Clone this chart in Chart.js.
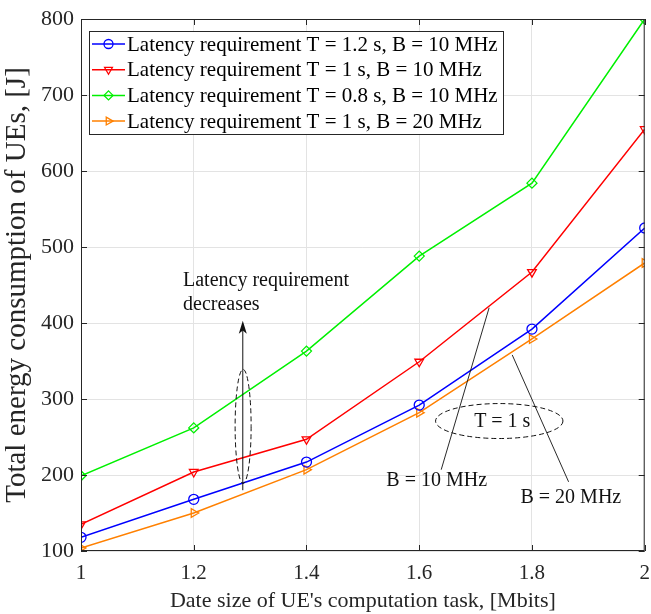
<!DOCTYPE html>
<html>
<head>
<meta charset="utf-8">
<script src="https://cdn.jsdelivr.net/npm/chart.js@4.4.1/dist/chart.umd.min.js"></script>
<style>
  html, body { margin: 0; padding: 0; background: #fff; }
  #wrap { width: 651px; height: 614px; }
</style>
</head>
<body>
<div id="wrap"><canvas id="c" width="651" height="614"></canvas></div>
<script>
// Data size of the computation task (Mbits)
const dataSizes = [1, 1.2, 1.4, 1.6, 1.8, 2];
// Total energy consumption (J) for each latency / bandwidth setting
const energyT12B10 = [118, 168, 217, 292, 392, 525];
const energyT1B10  = [135, 204, 247, 349, 467, 655];
const energyT08B10 = [199, 262, 363, 488, 584, 800];
const energyT1B20  = [104, 150, 207, 282, 379, 479];
const seriesLabels = [
  'Latency requirement T = 1.2 s, B = 10 MHz',
  'Latency requirement T = 1 s, B = 10 MHz',
  'Latency requirement T = 0.8 s, B = 10 MHz',
  'Latency requirement T = 1 s, B = 20 MHz'
];
const xTicks = [1, 1.2, 1.4, 1.6, 1.8, 2];
const yTicks = [100, 200, 300, 400, 500, 600, 700, 800];

const FONT = '"Liberation Serif", "Times New Roman", serif';

function series(label, values, color, style, rot) {
  return {
    label: label,
    data: dataSizes.map((x, i) => ({ x: x, y: values[i] })),
    borderColor: color,
    backgroundColor: 'rgba(0,0,0,0)',
    borderWidth: 1.5,
    pointStyle: style,
    pointRotation: rot,
    pointRadius: 5,
    pointBorderWidth: 1.3,
    pointBorderColor: color,
    pointBackgroundColor: 'rgba(0,0,0,0)',
    tension: 0,
    fill: false
  };
}

const datasets = [
  series(seriesLabels[0], energyT12B10, '#0000ff', 'circle', 0),
  series(seriesLabels[1], energyT1B10, '#ff0000', 'triangle', 180),
  series(seriesLabels[2], energyT08B10, '#00f000', 'rectRot', 0),
  series(seriesLabels[3], energyT1B20, '#ff8000', 'triangle', 90)
];

// Frame, inward tick marks, boxed legend and annotations
const decorations = {
  id: 'decorations',
  afterDatasetsDraw(chart) {
    const ctx = chart.ctx;
    const a = chart.chartArea;
    const xs = chart.scales.x, ys = chart.scales.y;
    const X = v => xs.getPixelForValue(v);
    const Y = v => ys.getPixelForValue(v);
    ctx.save();

    // axes box
    ctx.strokeStyle = '#262626';
    ctx.lineWidth = 1;
    ctx.strokeRect(a.left + 0.5, a.top + 0.5, a.right - a.left - 1, a.bottom - a.top - 1);
    ctx.beginPath();
    xTicks.forEach(t => {
      const px = Math.round(X(t)) + 0.5;
      ctx.moveTo(px, a.bottom); ctx.lineTo(px, a.bottom - 6);
      ctx.moveTo(px, a.top); ctx.lineTo(px, a.top + 6);
    });
    yTicks.forEach(t => {
      const py = Math.round(Y(t)) + 0.5;
      ctx.moveTo(a.left, py); ctx.lineTo(a.left + 6, py);
      ctx.moveTo(a.right, py); ctx.lineTo(a.right - 6, py);
    });
    ctx.stroke();

    // legend box
    const lx = a.left + 8, ly = a.top + 12, lw = 414, lh = 103;
    ctx.fillStyle = '#fff';
    ctx.fillRect(lx, ly, lw, lh);
    ctx.strokeStyle = '#262626';
    ctx.lineWidth = 1;
    ctx.strokeRect(lx + 0.5, ly + 0.5, lw, lh);
    ctx.font = '21px ' + FONT;
    ctx.textBaseline = 'middle';
    ctx.textAlign = 'left';
    chart.data.datasets.forEach((ds, i) => {
      const ry = ly + 13 + i * 25.7;
      ctx.strokeStyle = ds.borderColor;
      ctx.fillStyle = 'rgba(0,0,0,0)';
      ctx.lineWidth = 1.5;
      ctx.beginPath();
      ctx.moveTo(lx + 3, ry); ctx.lineTo(lx + 36, ry);
      ctx.stroke();
      ctx.lineWidth = 1.3;
      Chart.helpers.drawPoint(ctx, {
        pointStyle: ds.pointStyle, rotation: ds.pointRotation,
        radius: 4.5, borderWidth: 1.3
      }, lx + 19.5, ry);
      ctx.fillStyle = '#000';
      ctx.fillText(ds.label, lx + 38, ry + 1);
    });

    ctx.fillStyle = '#111';
    ctx.strokeStyle = '#111';
    ctx.font = '20px ' + FONT;

    // "Latency requirement decreases" arrow with dashed ellipse
    ctx.textAlign = 'left';
    ctx.fillText('Latency requirement', X(1.181), Y(455));
    ctx.fillText('decreases', X(1.181), Y(424));
    const ax = X(1.287);
    ctx.lineWidth = 1;
    ctx.beginPath();
    ctx.moveTo(ax, Y(180)); ctx.lineTo(ax, Y(398));
    ctx.stroke();
    ctx.beginPath();
    ctx.moveTo(ax, Y(403)); ctx.lineTo(ax - 4, Y(386)); ctx.lineTo(ax, Y(390)); ctx.lineTo(ax + 4, Y(386));
    ctx.closePath();
    ctx.fill();
    ctx.setLineDash([5, 3]);
    ctx.beginPath();
    const e1y = Y(264);
    ctx.ellipse(X(1.2876), e1y, 8, Math.abs(Y(264 + 75) - e1y), 0, 0, Math.PI * 2);
    ctx.stroke();

    // T = 1 s grouping ellipse
    const e2x = X(1.742), e2y = Y(271);
    ctx.beginPath();
    ctx.ellipse(e2x, e2y, X(1.742 + 0.113) - e2x, Math.abs(Y(271 + 23) - e2y), 0, 0, Math.PI * 2);
    ctx.stroke();
    ctx.setLineDash([]);
    ctx.textAlign = 'center';
    ctx.fillText('T = 1 s', e2x + 3, e2y + 1);

    // bandwidth callouts
    ctx.lineWidth = 0.9;
    ctx.beginPath();
    ctx.moveTo(X(1.724), Y(420)); ctx.lineTo(X(1.639), Y(207));
    ctx.moveTo(X(1.765), Y(358)); ctx.lineTo(X(1.865), Y(191));
    ctx.stroke();
    ctx.fillText('B = 10 MHz', X(1.631), Y(193));
    ctx.fillText('B = 20 MHz', X(1.869), Y(170));

    ctx.restore();
  }
};

new Chart(document.getElementById('c'), {
  type: 'line',
  data: { datasets: datasets },
  options: {
    responsive: false,
    animation: false,
    devicePixelRatio: 1,
    layout: { padding: { top: 19, right: 4, left: 0, bottom: 0 } },
    plugins: { legend: { display: false }, tooltip: { enabled: false } },
    scales: {
      x: {
        type: 'linear',
        min: 1, max: 2,
        afterFit(s) { s.height = 63; s.paddingLeft = 0; s.paddingRight = 0; },
        afterBuildTicks(s) { s.ticks = xTicks.map(v => ({ value: v })); },
        grid: { color: '#e3e3e3', drawTicks: false, lineWidth: 1 },
        border: { display: false },
        ticks: {
          padding: 10,
          color: '#262626',
          font: { family: FONT, size: 21 },
          maxRotation: 0,
          callback: v => String(Math.round(v * 10) / 10)
        },
        title: {
          display: true,
          text: "Date size of UE's computation task, [Mbits]",
          color: '#262626',
          font: { family: FONT, size: 22 },
          padding: { top: 0, bottom: 0 }
        }
      },
      y: {
        type: 'linear',
        min: 100, max: 800,
        afterFit(s) { s.width = 81; s.paddingTop = 0; s.paddingBottom = 0; },
        afterBuildTicks(s) { s.ticks = yTicks.map(v => ({ value: v })); },
        grid: { color: '#e3e3e3', drawTicks: false, lineWidth: 1 },
        border: { display: false },
        ticks: {
          padding: 7,
          color: '#262626',
          font: { family: FONT, size: 22 }
        },
        title: {
          display: true,
          text: 'Total energy consumption of UEs, [J]',
          color: '#262626',
          font: { family: FONT, size: 29 },
          padding: { top: 0, bottom: 0 }
        }
      }
    }
  },
  plugins: [decorations]
});
</script>
</body>
</html>
